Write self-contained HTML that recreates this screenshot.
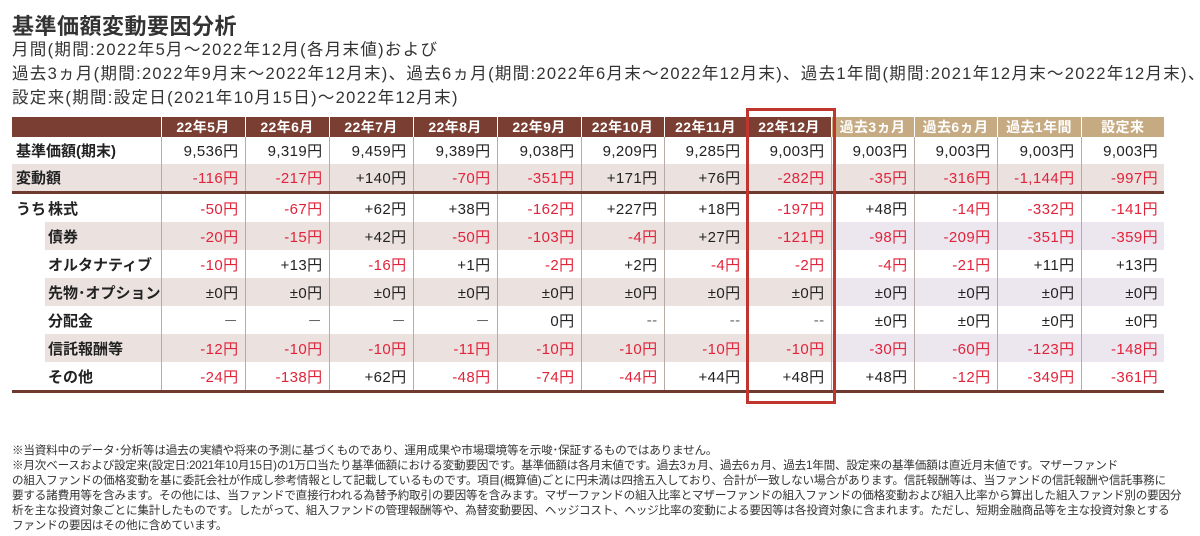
<!DOCTYPE html>
<html><head><meta charset="utf-8">
<style>
body{margin:0;width:1200px;height:536px;background:#fff;font-family:"Liberation Sans","Noto Sans CJK JP",sans-serif;color:#222;position:relative;overflow:hidden}
.title{position:absolute;left:12px;top:9px;font-size:22px;font-weight:bold;color:#333;letter-spacing:0.5px}
.sub{position:absolute;left:12px;top:38px;font-size:16.5px;line-height:24px;white-space:nowrap;color:#333;letter-spacing:1.3px}
table{position:absolute;left:12px;top:117px;border-collapse:collapse;table-layout:fixed;font-size:15px;letter-spacing:0.4px}
td,th{padding:0 6px;text-align:right;white-space:nowrap;border-left:1px solid #b9aaa6;vertical-align:middle}
th{height:19px;color:#fff;font-weight:bold;text-align:center;font-size:14px;border-left:1px solid #fff;padding:0}
th.m{background:#7a3e33}
th.p{background:#c6aa82}
th.lab{background:#7a3e33;border-left:none}
td{height:27px}
td.lab{text-align:left;border-left:none;padding:0 0 0 4px;font-weight:bold;letter-spacing:0}
td.sublab{padding-left:36px}
.uchi{display:inline-block;width:32px;margin-left:-32px}
.neg{color:#e0233a}
tr.sh td.c{background:#ebe2e0}
tr.sh td.r{background:#ece6ef}
tr.sh td.sublab{background:linear-gradient(to right,#fff 33px,#ebe2e0 33px)}
.hl{position:absolute;left:746px;top:108px;width:84px;height:290px;border:3px solid #c0352d;box-sizing:content-box}
.notes{position:absolute;left:12px;top:443px;font-size:11.6px;line-height:15px;white-space:nowrap;color:#333;letter-spacing:-0.2px}
</style></head><body>
<div class="title">基準価額変動要因分析</div>
<div class="sub">月間(期間:2022年5月～2022年12月(各月末値)および<br>過去3ヵ月(期間:2022年9月末～2022年12月末)、過去6ヵ月(期間:2022年6月末～2022年12月末)、過去1年間(期間:2021年12月末～2022年12月末)、<br>設定来(期間:設定日(2021年10月15日)～2022年12月末)</div>
<table id="t"></table>
<div class="hl"></div>
<div class="notes">※当資料中のデータ･分析等は過去の実績や将来の予測に基づくものであり、運用成果や市場環境等を示唆･保証するものではありません。<br>※月次ベースおよび設定来(設定日:2021年10月15日)の1万口当たり基準価額における変動要因です。基準価額は各月末値です。過去3ヵ月、過去6ヵ月、過去1年間、設定来の基準価額は直近月末値です。マザーファンド<br>の組入ファンドの価格変動を基に委託会社が作成し参考情報として記載しているものです。項目(概算値)ごとに円未満は四捨五入しており、合計が一致しない場合があります。信託報酬等は、当ファンドの信託報酬や信託事務に<br>要する諸費用等を含みます。その他には、当ファンドで直接行われる為替予約取引の要因等を含みます。マザーファンドの組入比率とマザーファンドの組入ファンドの価格変動および組入比率から算出した組入ファンド別の要因分<br>析を主な投資対象ごとに集計したものです。したがって、組入ファンドの管理報酬等や、為替変動要因、ヘッジコスト、ヘッジ比率の変動による要因等は各投資対象に含まれます。ただし、短期金融商品等を主な投資対象とする<br>ファンドの要因はその他に含めています。</div>
<script>
const months=["22年5月","22年6月","22年7月","22年8月","22年9月","22年10月","22年11月","22年12月"];
const periods=["過去3ヵ月","過去6ヵ月","過去1年間","設定来"];
const rowLabels=["基準価額(期末)","変動額","株式","債券","オルタナティブ","先物･オプション","分配金","信託報酬等","その他"];
const basePrice=["9,536円","9,319円","9,459円","9,389円","9,038円","9,209円","9,285円","9,003円","9,003円","9,003円","9,003円","9,003円"];
const change=["-116円","-217円","+140円","-70円","-351円","+171円","+76円","-282円","-35円","-316円","-1,144円","-997円"];
const stocks=["-50円","-67円","+62円","+38円","-162円","+227円","+18円","-197円","+48円","-14円","-332円","-141円"];
const bonds=["-20円","-15円","+42円","-50円","-103円","-4円","+27円","-121円","-98円","-209円","-351円","-359円"];
const alts=["-10円","+13円","-16円","+1円","-2円","+2円","-4円","-2円","-4円","-21円","+11円","+13円"];
const futures=["±0円","±0円","±0円","±0円","±0円","±0円","±0円","±0円","±0円","±0円","±0円","±0円"];
const dividends=["－","－","－","－","0円","--","--","--","±0円","±0円","±0円","±0円"];
const fees=["-12円","-10円","-10円","-11円","-10円","-10円","-10円","-10円","-30円","-60円","-123円","-148円"];
const others=["-24円","-138円","+62円","-48円","-74円","-44円","+44円","+48円","+48円","-12円","-349円","-361円"];
const rows=[basePrice,change,stocks,bonds,alts,futures,dividends,fees,others];
const t=document.getElementById('t');
const cg=document.createElement('colgroup');
[148,84,84,84,84,84,83,83,84,83,83,84,83].forEach(w=>{const c=document.createElement('col');c.style.width=w+'px';cg.appendChild(c);});
t.appendChild(cg);
const hr=document.createElement('tr');


const h0=document.createElement('th');h0.className='lab';hr.appendChild(h0);
months.concat(periods).forEach((m,i)=>{
 const th=document.createElement('th');th.className=i<8?'m':'p';th.textContent=m;
 
 
 hr.appendChild(th);
});
t.appendChild(hr);
rows.forEach((vals,ri)=>{
 const tr=document.createElement('tr');
 
 
 if(ri===1||ri===3||ri===5||ri===7)tr.className='sh';
 const l=document.createElement('td');l.className='lab';
 
 
 if(ri<2){l.textContent=rowLabels[ri];if(ri===1)l.style.background='#ebe2e0';}
 else{l.classList.add('sublab');l.innerHTML=(ri===2?'<span class="uchi">うち</span>':'')+rowLabels[ri];}
 if(ri>=2)l.style.height='28px';
 if(ri===1)l.style.borderBottom='3px solid #6e3a30';
 if(ri===8)l.style.borderBottom='3px solid #6e3a30';
 tr.appendChild(l);
 vals.forEach((v,ci)=>{
  const td=document.createElement('td');td.className=ci<8?'c':'r';
  td.textContent=v;
  
  
  if(v.startsWith('-')&&v!=='--')td.classList.add('neg');
  if(ri===1)td.style.background='#ebe2e0';
  if(ri>=6&&v.match(/^[－-]+$/))td.style.color='#666';
  if(ri===1||ri===8)td.style.borderBottom='3px solid #6e3a30';
  if(ri>=2)td.style.height='28px';
  tr.appendChild(td);
 });
 t.appendChild(tr);
});
</script>
</body></html>
